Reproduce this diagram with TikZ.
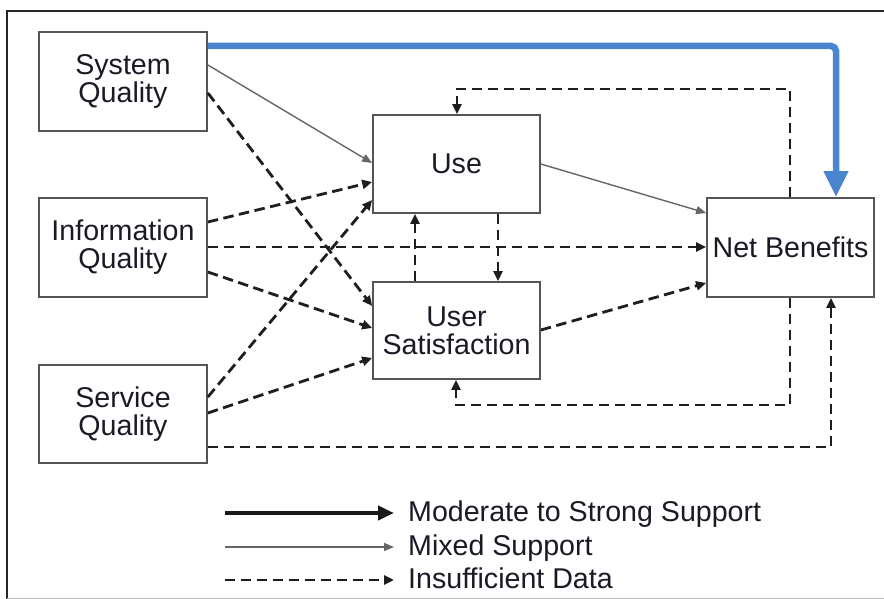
\documentclass[tikz,border=0pt]{standalone}
\usepackage{fontspec}
\setmainfont{Liberation Sans}
\usetikzlibrary{arrows.meta}
\definecolor{bluearr}{HTML}{4A86D0}
\definecolor{boxline}{HTML}{555555}
\definecolor{dashc}{HTML}{1E1E1E}
\definecolor{mixc}{HTML}{666666}
\definecolor{txt}{HTML}{1A1A24}
\begin{document}
\begin{tikzpicture}[x=1pt,y=-1pt,
  box/.style={draw=boxline,line width=1.7pt,align=center,inner sep=0pt,text=txt,
    minimum width=168pt,font=\fontsize{28.6}{28}\selectfont},
  dasharrow/.style={draw=dashc,line width=2.8pt,dash pattern=on 10.5pt off 5.5pt,
    -{Triangle[length=10pt,width=9pt]}},
  mixarrow/.style={draw=mixc,line width=1.4pt,-{Triangle[length=10pt,width=8pt]}},
  strongarrow/.style={draw=black!90,line width=4.5pt,-{Triangle[length=16pt,width=14pt]}},
  bluearrow/.style={draw=bluearr,line width=6.5pt,rounded corners=5pt,
    -{Triangle[length=26pt,width=23pt]}},
  legtext/.style={anchor=base west,inner sep=0pt,text=txt,font=\fontsize{28.6}{28}\selectfont}
]
\useasboundingbox (0,0) rectangle (884,599);
\fill[white] (0,0) rectangle (884,599);
\draw[line width=2pt,black!85] (7,599) -- (7,11) -- (884,11);
\draw[line width=1pt,black!25] (7,598) -- (884,598);

% boxes
\node[box,minimum height=99pt] (sq) at (123,81.5) {System\\Quality};
\node[box,minimum height=99pt] (iq) at (123,247.5) {Information\\Quality};
\node[box,minimum height=98pt] (svq) at (123,414) {Service\\Quality};
\node[box,minimum height=98pt,minimum width=167pt] (use) at (456.5,164) {Use};
\node[box,minimum height=97pt,minimum width=167pt] (us) at (456.5,330.5) {User\\Satisfaction};
\node[box,minimum height=99pt,minimum width=167pt] (nb) at (790.5,247.5) {Net Benefits};

% helper corner coordinates
\coordinate (topturn) at (790,89);
\coordinate (botturn) at (790,405);

% blue strong arrow
\draw[bluearrow] (sq.east |- 0,46) -| (nb.north -| 836,0);

% mixed support
\draw[mixarrow] (sq.east |- 0,65) -- (use.west |- 0,163);
\draw[mixarrow] (use.east |- 0,164) -- (nb.west |- 0,213);

% insufficient data
\draw[dasharrow] (sq.east |- 0,93) -- (us.west |- 0,306);
\draw[dasharrow] (iq.east |- 0,222) -- (use.west |- 0,182);
\draw[dasharrow] (iq.east |- 0,247) -- (nb.west |- 0,247);
\draw[dasharrow] (iq.east |- 0,272) -- (us.west |- 0,328);
\draw[dasharrow] (svq.east |- 0,397) -- (use.west |- 0,200);
\draw[dasharrow] (svq.east |- 0,413) -- (us.west |- 0,358);
\draw[dasharrow] (svq.east |- 0,447) -| (nb.south -| 831,0);
\draw[dasharrow] (us.north -| 415,0) -- (use.south -| 415,0);
\draw[dasharrow] (use.south -| 498,0) -- (us.north -| 498,0);
\draw[dasharrow] (us.east |- 0,330) -- (nb.west |- 0,283);
\draw[dasharrow] (nb.north -| 790,0) -- (topturn) -| (use.north -| 457,0);
\draw[dasharrow] (nb.south -| 790,0) -- (botturn) -| (us.south -| 456,0);

% legend
\coordinate (l1a) at (225,513); \coordinate (l1b) at (394,513);
\coordinate (l2a) at (225,547); \coordinate (l2b) at (394,547);
\coordinate (l3a) at (225,580); \coordinate (l3b) at (394,580);
\draw[strongarrow] (l1a) -- (l1b);
\draw[mixarrow] (l2a) -- (l2b);
\draw[dasharrow,dash pattern=on 10pt off 6pt] (l3a) -- (l3b);
\node[legtext] (t1) at (408,521) {Moderate to Strong Support};
\node[legtext] (t2) at (408,555) {Mixed Support};
\node[legtext] (t3) at (408,588) {Insufficient Data};
\end{tikzpicture}
\end{document}
